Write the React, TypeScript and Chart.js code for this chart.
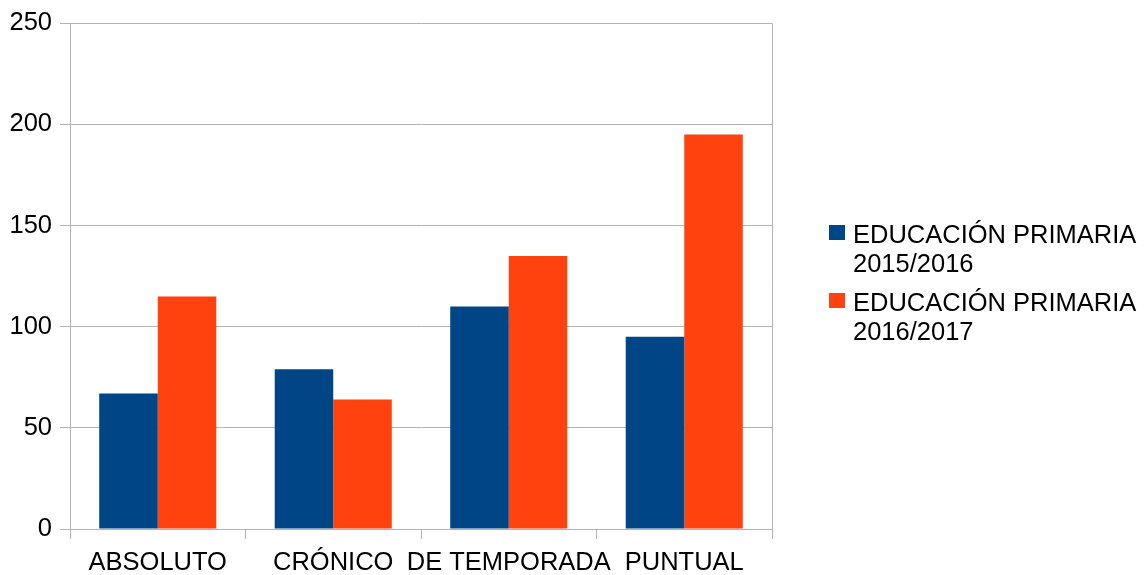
import React, { useEffect, useRef } from "react";
import { Chart, registerables } from "chart.js";

Chart.register(...registerables);

const categories = ["ABSOLUTO", "CRÓNICO", "DE TEMPORADA", "PUNTUAL"];
const seriesNames = ["EDUCACIÓN PRIMARIA 2015/2016", "EDUCACIÓN PRIMARIA 2016/2017"];
const series2015 = [67, 79, 110, 95];
const series2016 = [115, 64, 135, 195];
const seriesColors = ["#004586", "#ff420e"];
const yTicks = [0, 50, 100, 150, 200, 250];

const FONT = "'Liberation Sans', Arial, sans-serif";
const GRID = "#b3b3b3";
const FS = 25.5;

const extrasPlugin = {
  id: "extras",
  afterDraw(chart: any) {
    const ctx = chart.ctx;
    const area = chart.chartArea;
    ctx.save();
    ctx.strokeStyle = GRID;
    ctx.lineWidth = 1;
    ctx.beginPath();
    ctx.moveTo(Math.round(area.right) + 0.5, area.top);
    ctx.lineTo(Math.round(area.right) + 0.5, area.bottom + 10);
    ctx.stroke();

    ctx.font = FS + "px " + FONT;
    ctx.fillStyle = "#000";
    ctx.textBaseline = "alphabetic";
    ctx.textAlign = "left";
    const x0 = 829;
    let y = 243;
    chart.data.datasets.forEach((ds: any) => {
      const label: string = ds.label;
      const k = label.lastIndexOf(" ");
      const lines = [label.slice(0, k), label.slice(k + 1)];
      ctx.fillStyle = ds.backgroundColor;
      ctx.fillRect(x0, y - 18, 16, 15);
      ctx.fillStyle = "#000";
      lines.forEach((ln, j) => ctx.fillText(ln, x0 + 24, y + j * 29));
      y += 68;
    });
    ctx.restore();
  },
};

export default function App() {
  const ref = useRef<HTMLCanvasElement | null>(null);
  useEffect(() => {
    if (!ref.current) return;
    Chart.defaults.font.family = FONT;
    const chart = new Chart(ref.current, {
      type: "bar",
      data: {
        labels: categories,
        datasets: [
          {
            label: seriesNames[0],
            data: series2015,
            backgroundColor: seriesColors[0],
            categoryPercentage: 0.667,
            barPercentage: 1.0,
          },
          {
            label: seriesNames[1],
            data: series2016,
            backgroundColor: seriesColors[1],
            categoryPercentage: 0.667,
            barPercentage: 1.0,
          },
        ],
      },
      options: {
        animation: false,
        responsive: false,
        maintainAspectRatio: false,
        layout: { padding: { left: 0, top: 22, right: 375, bottom: 0 } },
        plugins: {
          legend: { display: false },
          tooltip: { enabled: false },
        },
        scales: {
          x: {
            offset: true,
            grid: {
              offset: true,
              drawOnChartArea: false,
              drawTicks: true,
              tickLength: 10,
              color: GRID,
            },
            border: { display: true, color: GRID },
            ticks: {
              color: "#000",
              font: { size: FS, family: FONT },
              padding: 9,
              maxRotation: 0,
              autoSkip: false,
            },
            afterFit: (s: any) => {
              s.height = 46;
            },
          },
          y: {
            min: 0,
            max: 250,
            afterBuildTicks: (s: any) => {
              s.ticks = yTicks.map((v) => ({ value: v }));
            },
            grid: { color: GRID, tickLength: 10, drawTicks: true },
            border: { display: true, color: GRID },
            ticks: {
              color: "#000",
              font: { size: FS, family: FONT },
              padding: 8,
            },
            afterFit: (s: any) => {
              s.width = 70;
            },
          },
        },
      },
      plugins: [extrasPlugin],
    });
    return () => chart.destroy();
  }, []);
  return (
    <div style={{ position: "fixed", left: 0, top: 0, width: 1147, height: 575, background: "#fff" }}>
      <canvas ref={ref} width={1147} height={575} style={{ width: 1147, height: 575, display: "block" }} />
    </div>
  );
}
